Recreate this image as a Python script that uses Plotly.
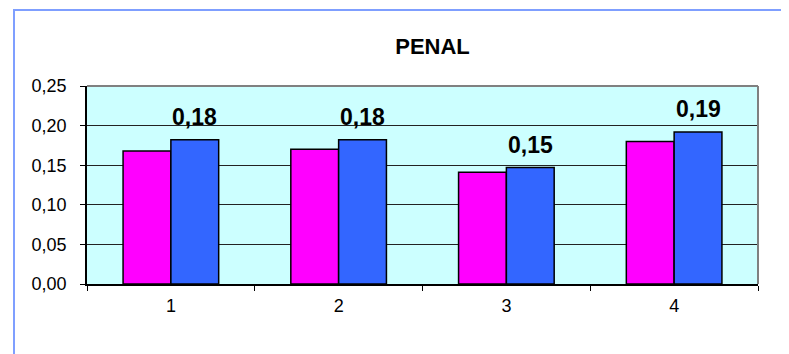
import plotly.graph_objects as go

categories = ["1", "2", "3", "4"]
series_a = [0.168, 0.170, 0.141, 0.180]   # magenta
series_b = [0.182, 0.182, 0.147, 0.192]   # blue (labelled)
y_ticks = [0.00, 0.05, 0.10, 0.15, 0.20, 0.25]
y_tick_labels = ["0,00", "0,05", "0,10", "0,15", "0,20", "0,25"]
title_text = "PENAL"

# page body has an 8px margin, so the figure is placed at (8, 8)
OFF = 8
W, H = 789 - OFF, 354 - OFF
L, T = 87 - OFF, 86 - OFF
R = W - (758 - OFF)
B = H - (284 - OFF)

fig = go.Figure()
fig.add_trace(go.Bar(x=categories, y=series_a, marker=dict(color="#FF00FF", line=dict(color="black", width=1.5))))
fig.add_trace(go.Bar(x=categories, y=series_b, marker=dict(color="#3366FF", line=dict(color="black", width=1.5))))

annotations = []
for i, v in enumerate(series_b):
    annotations.append(dict(
        x=i, y=v, xref="x", yref="y", text=f"<b>{v:.2f}</b>".replace(".", ","),
        showarrow=False, yanchor="bottom", xanchor="center", xshift=24, yshift=8,
        font=dict(family="Arial, Liberation Sans", size=23, color="black"),
    ))

fig.update_layout(
    width=W, height=H,
    margin=dict(l=L, r=R, t=T, b=B, pad=0),
    paper_bgcolor="white",
    plot_bgcolor="#CCFFFF",
    barmode="group", bargap=0.43, bargroupgap=0,
    showlegend=False,
    title=dict(text=f"<b>{title_text}</b>", x=(432.5 - 87) / (758 - 87), xref="paper",
               y=1 - (46 - OFF) / H, yref="container",
               xanchor="center", yanchor="middle",
               font=dict(family="Arial, Liberation Sans", size=22, color="black")),
    annotations=annotations,
    shapes=[
        dict(type="line", xref="paper", yref="paper", x0=0, x1=1, y0=1, y1=1, line=dict(color="#808080", width=2), layer="above"),
        dict(type="line", xref="paper", yref="paper", x0=1, x1=1, y0=0, y1=1, line=dict(color="#808080", width=2), layer="above"),
        dict(type="rect", xref="paper", yref="paper", x0=(14 - 87) / (758 - 87), x1=1.3,
             y0=-1, y1=(284 - 10) / (284 - 86), line=dict(color="#7F9FFF", width=2), layer="below"),
    ],
    font=dict(family="Arial, Liberation Sans", size=18, color="black"),
)
fig.update_xaxes(
    type="category", showline=True, linecolor="black", linewidth=1.5,
    ticks="outside", tickson="boundaries", ticklen=5, tickcolor="black", tickwidth=1,
    ticklabelstandoff=5, showgrid=False, zeroline=False,
    tickfont=dict(size=18),
)
fig.update_yaxes(
    range=[0, 0.25], tickvals=y_ticks, ticktext=y_tick_labels,
    showline=True, linecolor="black", linewidth=1.5,
    ticks="outside", ticklen=5, tickcolor="black", tickwidth=1, ticklabelstandoff=10,
    showgrid=True, gridcolor="#222222", gridwidth=1, zeroline=False,
    tickfont=dict(size=18),
)

fig.write_html("out.html")
